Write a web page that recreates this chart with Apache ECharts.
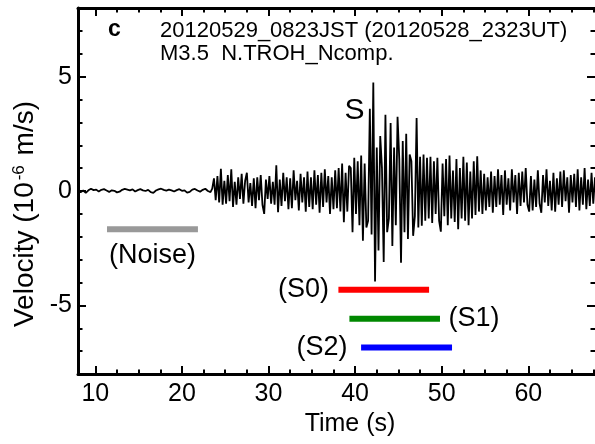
<!DOCTYPE html>
<html><head><meta charset="utf-8">
<script src="https://cdn.jsdelivr.net/npm/echarts@6/dist/echarts.min.js"></script>
<style>html,body{margin:0;padding:0;background:#fff}#c{width:595px;height:444px}</style>
</head><body><div id="c"></div>
<script>
// ---- data ----
const quietStart = 8.0, quietStep = 0.3;
const quietValues = [0.0, -0.05, 0.02, -0.08, 0.03, 0.1, 0.04, 0.06, -0.02, 0.05,
  0.08, 0.02, -0.04, 0.03, 0.01, -0.06, -0.03, 0.05, 0.09, 0.06,
  0.03, 0.07, -0.02, 0.04, 0.08, 0.03, 0.0, 0.05, -0.05, -0.08,
  0.02, 0.07, 0.1, 0.05, 0.02, 0.06, 0.03, -0.02, 0.04, 0.08,
  0.01, 0.03, -0.07, -0.04, 0.06, 0.09, 0.02, -0.03, 0.05, 0.1,
  0.0, -0.05];
const activeStart = 23.5, activeStep = 0.2;
const activeValues = [
  0.1, 0.55, -0.4, 0.65, -0.5,
  0.97, -0.6, 0.45, -0.55, 0.7,
  -0.45, 0.95, -0.7, 0.4, -0.6,
  0.6, -0.35, 0.75, -0.55, 0.45,
  0.8, -0.5, 0.35, -0.65, 0.55,
  -0.75, 0.6, -0.4, 0.7, -0.6,
  -1.0, 0.5, -0.35, 0.65, -0.55,
  0.4, -0.6, 1.12, -0.93, 0.5,
  -0.65, 0.8, -0.45, 0.6, -0.8,
  0.55, -0.75, 0.9, -0.4, 0.45,
  -0.85, 0.75, -0.5, 0.6, -0.9,
  0.85, -0.7, 0.6, -0.8, 0.9,
  -0.6, 0.7, -0.95, 0.8, -0.7,
  0.95, -0.5, 0.65, -1.0, 0.6,
  -0.8, 0.9, -0.75, 1.0, -0.9,
  1.2, -1.37, 0.8, -0.9, 1.1,
  1.0, -1.8, 1.45, -1.0, 1.3,
  -1.5, 1.55, -2.17, 1.2, -1.6,
  -1.3, 3.6, -1.9, 4.74, -3.96,
  1.9, -2.6, 2.4, 1.0, -3.1,
  3.33, -1.8, -1.2, 2.97, -2.4,
  1.9, -1.5, 3.24, 1.4, -3.14,
  2.18, -1.8, 2.5, -2.1, 1.6,
  1.3, -1.96, -1.1, 3.19, -1.6,
  1.5, -1.52, 1.6, -1.3, 1.45,
  -1.2, 1.5, -1.4, 1.3, -1.0,
  1.45, -1.3, -1.78, 1.2, -1.1,
  1.4, -1.5, 1.55, -1.2, 0.9,
  -1.35, 1.4, -1.67, 1.0, -1.2,
  1.5, -1.3, 1.25, -1.5, 0.85,
  -1.2, 1.3, -1.05, 1.52, -0.9,
  0.9, -1.0, 0.75, -0.85, 0.6,
  -0.7, 0.85, -0.95, 0.65, -0.7,
  0.95, -0.6, 0.7, -1.05, 0.9,
  -0.6, 0.55, -0.85, 0.95, -0.5,
  0.7, -1.0, 0.8, -0.65, 0.85,
  -0.5, 1.0, -0.6, -0.9, 0.65,
  -0.85, 0.5, -0.7, 0.9, -0.55,
  -0.95, 0.7, -0.5, 0.95, -0.65,
  0.45, -0.85, 0.8, -0.9, 0.55,
  -0.6, 0.85, -0.7, 0.9, -0.45,
  0.6, -0.95, 0.7, -0.5, 0.75,
  -0.7, 0.95, -0.85, 0.6, -0.6,
  1.0, -0.8, 0.5, -0.65, 0.8,
  -0.55, 0.6
];
// analysis windows: [start, end, level]
const noiseWindow = [11.35, 21.85, -1.67];
const s0Window = [38.07, 48.54, -4.32];
const s1Window = [39.34, 49.8, -5.58];
const s2Window = [40.69, 51.19, -6.84];
const sPhaseMark = [39.94, 3.5];
const xMajorTicks = [10, 20, 30, 40, 50, 60];
const xMinorTicks = [12.5, 15, 17.5, 22.5, 25, 27.5, 32.5, 35, 37.5, 42.5, 45, 47.5, 52.5, 55, 57.5, 62.5, 65, 67.5];
const yMajorTicks = [-5, 0, 5];
const yMinorTicks = [-7, -6, -4, -3, -2, -1, 1, 2, 3, 4, 6, 7];
const titleLines = ['20120529_0823JST (20120528_2323UT)', 'M3.5  N.TROH_Ncomp.'];
const panelLetter = 'c';

// ---- chart ----
const FONT = 'Liberation Sans, Arial, Helvetica, sans-serif';
const XMIN = 8, XMAX = 67.7, YMIN = -8, YMAX = 8;
const wave = quietValues.map((v, i) => [quietStart + i * quietStep, v])
  .concat(activeValues.map((v, i) => [activeStart + i * activeStep, v]));

const gridBox = { left: 78, top: 8, right: 0, bottom: 70 };
function xAx(gi, pos, ticks, len, opts) {
  return Object.assign({
    type: 'value', gridIndex: gi, position: pos, min: XMIN, max: XMAX,
    axisLine: { show: false, onZero: false }, splitLine: { show: false },
    axisTick: { show: true, inside: true, length: len, customValues: ticks, lineStyle: { color: '#000', width: 2 } },
    axisLabel: { show: false }
  }, opts || {});
}
function yAx(gi, pos, ticks, len, opts) {
  return Object.assign({
    type: 'value', gridIndex: gi, position: pos, min: YMIN, max: YMAX,
    axisLine: { show: false, onZero: false }, splitLine: { show: false },
    axisTick: { show: true, inside: true, length: len, customValues: ticks, lineStyle: { color: '#000', width: 2 } },
    axisLabel: { show: false }
  }, opts || {});
}
function windowSeries(w, color, labelText, labelPos, labelDist, where) {
  const lab = { show: true, formatter: labelText, position: labelPos, distance: labelDist,
    fontSize: 27, color: '#000', fontFamily: FONT };
  const ax = where === 'mid' ? (w[0] + w[1]) / 2 : (where === 'end' ? w[1] : w[0]);
  return {
    type: 'line', xAxisIndex: 0, yAxisIndex: 0, symbol: 'none', silent: true,
    lineStyle: { color: color, width: 6, cap: 'butt' },
    data: [[w[0], w[2]], [w[1], w[2]]],
    markPoint: {
      symbol: 'circle', symbolSize: 1, itemStyle: { color: 'transparent' }, silent: true,
      label: lab,
      data: [{ coord: [ax, w[2]], value: labelText }]
    }
  };
}

const chart = echarts.init(document.getElementById('c'), null, { renderer: 'canvas' });
chart.setOption({
  animation: false,
  backgroundColor: '#fff',
  title: [
    { text: panelLetter, left: 108, top: 19, padding: 0,
      textStyle: { fontSize: 23, fontWeight: 'bold', color: '#000', fontFamily: FONT, lineHeight: 22 } },
    { text: titleLines.join('\n'), left: 160, top: 19, padding: 0,
      textStyle: { fontSize: 22, fontWeight: 'normal', color: '#000', fontFamily: FONT, lineHeight: 23.5 } }
  ],
  grid: [Object.assign({}, gridBox), Object.assign({}, gridBox)],
  xAxis: [
    xAx(0, 'bottom', xMajorTicks, 8, {
      axisLine: { show: true, onZero: false, lineStyle: { color: '#000', width: 3 } },
      axisLabel: { show: true, customValues: xMajorTicks, fontSize: 25, color: '#000', margin: 8, fontFamily: FONT },
      name: 'Time (s)', nameLocation: 'middle', nameGap: 35,
      nameTextStyle: { fontSize: 25, color: '#000', fontFamily: FONT, padding: [0, 0, 0, 27] }
    }),
    xAx(0, 'top', xMajorTicks, 8, {
      axisLine: { show: true, onZero: false, lineStyle: { color: '#000', width: 3 } }
    }),
    xAx(1, 'bottom', xMinorTicks, 4.5),
    xAx(1, 'top', xMinorTicks, 4.5)
  ],
  yAxis: [
    yAx(0, 'left', yMajorTicks, 8, {
      axisLine: { show: true, onZero: false, lineStyle: { color: '#000', width: 3 } },
      axisLabel: { show: true, customValues: yMajorTicks, fontSize: 25, color: '#000', margin: 6, fontFamily: FONT },
      name: 'Velocity (10{sup|-6} m/s)', nameLocation: 'middle', nameRotate: 90, nameGap: 32,
      nameTextStyle: { fontSize: 28, color: '#000', fontFamily: FONT, padding: [0, 46, 0, 0],
        rich: { sup: { fontSize: 17, color: '#000', fontFamily: FONT, verticalAlign: 'top', padding: [0, 2, 0, 2] } } }
    }),
    yAx(0, 'right', yMajorTicks, 8),
    yAx(1, 'left', yMinorTicks, 4.5),
    yAx(1, 'right', yMinorTicks, 4.5)
  ],
  series: [
    {
      type: 'line', xAxisIndex: 0, yAxisIndex: 0, data: wave, symbol: 'none', silent: true,
      lineStyle: { color: '#000', width: 1.8 },
      markPoint: {
        symbol: 'circle', symbolSize: 1, itemStyle: { color: 'transparent' }, silent: true,
        label: { show: true, formatter: 'S', position: 'inside', fontSize: 30, color: '#000', fontFamily: FONT },
        data: [{ coord: sPhaseMark, value: 'S' }]
      }
    },
    windowSeries(noiseWindow, '#999999', '(Noise)', 'bottom', 12, 'mid'),
    windowSeries(s0Window, '#ff0000', '(S0)', 'left', 9, 'start'),
    windowSeries(s1Window, '#008800', '(S1)', 'right', 8, 'end'),
    windowSeries(s2Window, '#0000ff', '(S2)', 'left', 13, 'start')
  ]
});
</script>
</body></html>
